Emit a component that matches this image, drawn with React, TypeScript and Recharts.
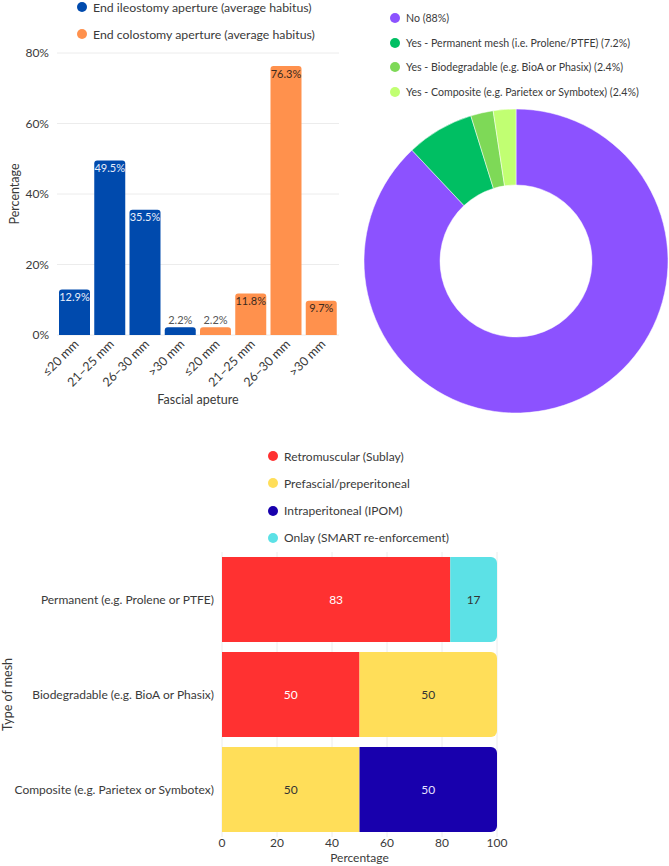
import React from 'react';
import { BarChart, Bar, XAxis, YAxis, CartesianGrid, Cell, LabelList, Label, PieChart, Pie, Rectangle } from 'recharts';

const FONT = 'Lato, sans-serif';
const TEXT = '#3a3a3a';

// Fascial aperture distribution
const apertureLabels = ['≤20 mm', '21–25 mm', '26–30 mm', '>30 mm'];
const ileostomyValues = [12.9, 49.5, 35.5, 2.2];
const colostomyValues = [2.2, 11.8, 76.3, 9.7];
const apertureSeries = ['End ileostomy aperture (average habitus)', 'End colostomy aperture (average habitus)'];
const apertureColors = ['#004aad', '#ff914d'];
const percentTicks = [0, 20, 40, 60, 80];

// Mesh use
const meshUseLabels = [
  'No (88%)',
  'Yes - Permanent mesh (i.e. Prolene/PTFE) (7.2%)',
  'Yes - Biodegradable (e.g. BioA or Phasix) (2.4%)',
  'Yes - Composite (e.g. Parietex or Symbotex) (2.4%)',
];
const meshUseValues = [88, 7.2, 2.4, 2.4];
const meshUseColors = ['#8c52ff', '#00bf63', '#7ed957', '#c1ff72'];

// Mesh position by mesh type
const meshTypes = ['Permanent (e.g. Prolene or PTFE)', 'Biodegradable (e.g. BioA or Phasix)', 'Composite (e.g. Parietex or Symbotex)'];
const positionNames = ['Retromuscular (Sublay)', 'Prefascial/preperitoneal', 'Intraperitoneal (IPOM)', 'Onlay (SMART re-enforcement)'];
const positionKeys = ['retro', 'prefascial', 'ipom', 'onlay'];
const retromuscular = [83, 50, 0];
const prefascial = [0, 50, 50];
const intraperitoneal = [0, 0, 50];
const onlay = [17, 0, 0];
const positionColors = ['#ff3131', '#ffde59', '#1800ad', '#5ce1e6'];
const positionLabelColors = ['#ffffff', '#333333', '#e6e2ff', '#333333'];
const shareTicks = [0, 20, 40, 60, 80, 100];

const apertureRows = [
  ...apertureLabels.map((label, i) => ({ id: i, label, value: ileostomyValues[i], group: 0 })),
  ...apertureLabels.map((label, i) => ({ id: i + 4, label, value: colostomyValues[i], group: 1 })),
];

const meshUseRows = meshUseLabels.map((name, i) => ({ name, value: meshUseValues[i] }));

const positionSeries = [retromuscular, prefascial, intraperitoneal, onlay];
const meshRows = meshTypes.map((name, i) => {
  const row: Record<string, any> = { name };
  positionKeys.forEach((k, j) => { row[k] = positionSeries[j][i]; });
  return row;
});

const Dot = ({ color, size = 10 }: { color: string; size?: number }) => (
  <span style={{ display: 'inline-block', width: size, height: size, borderRadius: '50%', background: color, marginRight: 6, flexShrink: 0 }} />
);

const LegendItem = ({ color, text, x, y, fontSize }: any) => (
  <div style={{ position: 'absolute', left: x - 5, top: y - 8, height: 16, display: 'flex', alignItems: 'center', fontFamily: FONT, fontSize, color: TEXT, whiteSpace: 'nowrap' }}>
    <Dot color={color} />
    {text}
  </div>
);

const ApertureTick = (props: any) => {
  const { x, y, index } = props;
  const row = apertureRows[index];
  if (!row) return null;
  const ax = x + 5;
  const ay = y + 10;
  return (
    <text x={ax} y={ay} transform={`rotate(-45 ${ax} ${ay})`} textAnchor="end" fontSize={12.5} fill={TEXT} fontFamily={FONT}>
      {row.label}
    </text>
  );
};

const renderApertureLabel = (props: any) => {
  const { x, y, width, value, index } = props;
  const row = apertureRows[index];
  const small = value < 5;
  const fill = small ? '#555' : row.group === 0 ? '#e8eefa' : '#3b2a1e';
  return (
    <text x={x + width / 2} y={small ? y - 3 : y + 11.5} textAnchor="middle" fontSize={11} fill={fill} fontFamily={FONT}>
      {`${value}%`}
    </text>
  );
};

function ApertureChart() {
  return (
    <div style={{ position: 'absolute', left: 0, top: 0, width: 350, height: 440 }}>
      <BarChart width={350} height={440} data={apertureRows} margin={{ top: 53, right: 11, left: 0, bottom: 20 }} barCategoryGap={2}>
        <CartesianGrid vertical={false} stroke="#ececec" />
        <XAxis dataKey="id" interval={0} tick={<ApertureTick />} tickLine={false} axisLine={false} tickSize={0} tickMargin={0} height={85}>
          <Label
            content={({ viewBox }: any) => (
              <text x={viewBox.x + viewBox.width / 2} y={viewBox.y + 69} textAnchor="middle" fontSize={12.5} fill={TEXT} fontFamily={FONT}>
                Fascial apeture
              </text>
            )}
          />
        </XAxis>
        <YAxis
          width={57}
          domain={[0, 80]}
          ticks={percentTicks}
          tickFormatter={(v) => `${v}%`}
          tickLine={false}
          axisLine={false}
          tick={{ fontSize: 12, fill: TEXT, fontFamily: FONT }}
        >
          <Label
            content={({ viewBox }: any) => {
              const cx = viewBox.x + 14;
              const cy = viewBox.y + viewBox.height / 2;
              return (
                <text x={cx} y={cy} transform={`rotate(-90 ${cx} ${cy})`} textAnchor="middle" dominantBaseline="central" fontSize={12.5} fill={TEXT} fontFamily={FONT}>
                  Percentage
                </text>
              );
            }}
          />
        </YAxis>
        <Bar dataKey="value" radius={[3, 3, 0, 0]} isAnimationActive={false}>
          {apertureRows.map((r) => (
            <Cell key={r.id} fill={apertureColors[r.group]} />
          ))}
          <LabelList dataKey="value" content={renderApertureLabel} />
        </Bar>
      </BarChart>
      {apertureSeries.map((s, i) => (
        <LegendItem key={s} color={apertureColors[i]} text={s} x={82} y={7 + i * 27} fontSize={12.3} />
      ))}
    </div>
  );
}

function MeshUseChart() {
  return (
    <div style={{ position: 'absolute', left: 355, top: 0, width: 314, height: 440 }}>
      <PieChart width={314} height={440}>
        <Pie
          data={meshUseRows}
          dataKey="value"
          cx={156}
          cy={256}
          innerRadius={76}
          outerRadius={152}
          startAngle={90}
          endAngle={-270}
          stroke="#ffffff"
          strokeWidth={0.5}
          isAnimationActive={false}
        >
          {meshUseRows.map((r, i) => (
            <Cell key={r.name} fill={meshUseColors[i]} />
          ))}
        </Pie>
      </PieChart>
      {meshUseLabels.map((s, i) => (
        <LegendItem key={s} color={meshUseColors[i]} text={s} x={40} y={18 + i * 24.5} fontSize={10.6} />
      ))}
    </div>
  );
}

// Round the right end of whichever segment closes its row
const segmentShape = (key: string) => (props: any) => {
  const row = props.payload || {};
  const last = [...positionKeys].reverse().find((k) => row[k] > 0);
  const r = last === key ? 6 : 0;
  return <Rectangle {...props} radius={[0, r, r, 0]} />;
};

const segmentLabel = (color: string) => (props: any) => {
  const { x, y, width, height, value } = props;
  if (!value) return null;
  return (
    <text x={x + width / 2} y={y + height / 2} textAnchor="middle" dominantBaseline="central" fontSize={12} fill={color} fontFamily={FONT}>
      {value}
    </text>
  );
};

const MeshTypeTick = (props: any) => {
  const { x, y, payload } = props;
  return (
    <text x={x} y={y} textAnchor="end" dominantBaseline="central" fontSize={12} fill={TEXT} fontFamily={FONT}>
      {payload.value}
    </text>
  );
};

function MeshPositionChart() {
  return (
    <div style={{ position: 'absolute', left: 0, top: 440, width: 669, height: 426 }}>
      <BarChart layout="vertical" width={669} height={426} data={meshRows} margin={{ top: 112, right: 172, left: 0, bottom: 0 }} barCategoryGap={5}>
        <CartesianGrid horizontal={false} stroke="#ececec" />
        <XAxis
          type="number"
          domain={[0, 100]}
          ticks={shareTicks}
          tickLine={false}
          axisLine={false}
          tickSize={0}
          tickMargin={1}
          height={29}
          tick={{ fontSize: 12, fill: TEXT, fontFamily: FONT }}
        >
          <Label
            content={({ viewBox }: any) => (
              <text x={viewBox.x + viewBox.width / 2} y={viewBox.y + 25} textAnchor="middle" fontSize={12} fill={TEXT} fontFamily={FONT}>
                Percentage
              </text>
            )}
          />
        </XAxis>
        <YAxis type="category" dataKey="name" width={222} tickLine={false} axisLine={false} tick={<MeshTypeTick />}>
          <Label
            content={({ viewBox }: any) => {
              const cx = 7;
              const cy = viewBox.y + viewBox.height / 2;
              return (
                <text x={cx} y={cy} transform={`rotate(-90 ${cx} ${cy})`} textAnchor="middle" dominantBaseline="central" fontSize={12.5} fill={TEXT} fontFamily={FONT}>
                  Type of mesh
                </text>
              );
            }}
          />
        </YAxis>
        {positionKeys.map((k, i) => (
          <Bar key={k} dataKey={k} name={positionNames[i]} stackId="pos" fill={positionColors[i]} shape={segmentShape(k)} isAnimationActive={false}>
            <LabelList dataKey={k} content={segmentLabel(positionLabelColors[i])} />
          </Bar>
        ))}
      </BarChart>
      {positionNames.map((s, i) => (
        <LegendItem key={s} color={positionColors[i]} text={s} x={273} y={16 + i * 27.3} fontSize={12} />
      ))}
    </div>
  );
}

export default function App() {
  return (
    <div style={{ position: 'absolute', left: 0, top: 0, width: 669, height: 866, background: '#fff', overflow: 'hidden' }}>
      <ApertureChart />
      <MeshUseChart />
      <MeshPositionChart />
    </div>
  );
}
